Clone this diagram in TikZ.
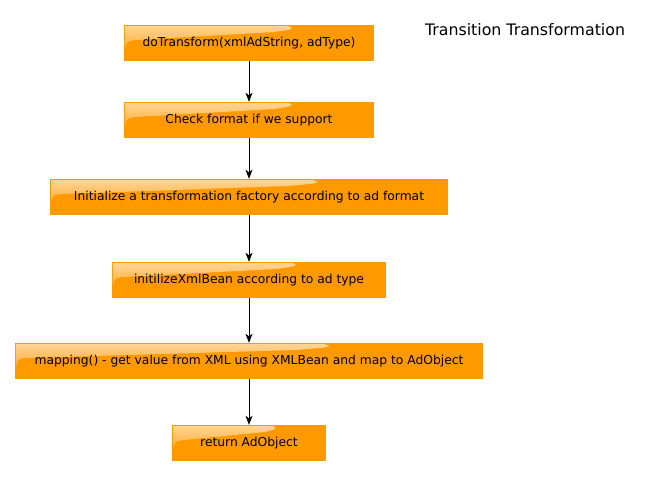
\documentclass[tikz,border=0pt]{standalone}
\usepackage{fontspec}
\setmainfont{DejaVu Sans}
\usepackage{tikz}
\usetikzlibrary{arrows.meta}
\usetikzlibrary{calc}
\usetikzlibrary{fadings}
\definecolor{boxorange}{HTML}{FF9900}
\tikzset{ step_box/.style = {rectangle, fill=boxorange, minimum height=36pt, inner sep=0pt, font=\fontsize{12.3}{14}\selectfont,
    path picture={\fill[white, path fading=south, fill opacity=0.6]
      ($(path picture bounding box.north west)+(1pt,-1pt)$)
      -- ($(path picture bounding box.north west)!0.66!(path picture bounding box.north east)+(0,-1pt)$)
      .. controls ($(path picture bounding box.north west)!0.68!(path picture bounding box.north east)+(0,-4pt)$)
      .. ($(path picture bounding box.north west)!0.6!(path picture bounding box.north east)+(0,-7pt)$)
      -- ($(path picture bounding box.north west)+(12pt,-15pt)$)
      .. controls ($(path picture bounding box.north west)+(3pt,-16pt)$) .. ($(path picture bounding box.north west)+(1pt,-24pt)$)
      -- cycle;}} }
\tikzset{ flow_arrow/.style = {line width=0.9pt, -{Stealth[length=9pt,width=7pt,inset=2.5pt]}} }

\begin{document}
\begin{tikzpicture}[x=1pt,y=-1pt]
            \useasboundingbox (0,0) rectangle (650,477);
            \node [font=\fontsize{15.8}{18}\selectfont] (title) at (525, 30) {Transition Transformation};
                    \node [style=step_box, minimum width=250pt] (transform) at (249, 43) {doTransform(xmlAdString, adType)};
                    \node [style=step_box, minimum width=250pt] (check) at (249, 120) {Check format if we support};
                    \node [style=step_box, minimum width=398pt] (factory) at (249, 197) {Initialize a transformation factory according to ad format};
                    \node [style=step_box, minimum width=274pt] (bean) at (249, 280) {initilizeXmlBean according to ad type};
                    \node [style=step_box, minimum width=468pt] (mapping) at (249, 361) {mapping() - get value from XML using XMLBean and map to AdObject};
                    \node [style=step_box, minimum width=154pt] (return) at (249, 443) {return AdObject};
                    \draw[style=flow_arrow] (transform) to (check);
                    \draw[style=flow_arrow] (check) to (factory);
                    \draw[style=flow_arrow] (factory) to (bean);
                    \draw[style=flow_arrow] (bean) to (mapping);
                    \draw[style=flow_arrow] (mapping) to (return);
            \end{tikzpicture}
\end{document}
